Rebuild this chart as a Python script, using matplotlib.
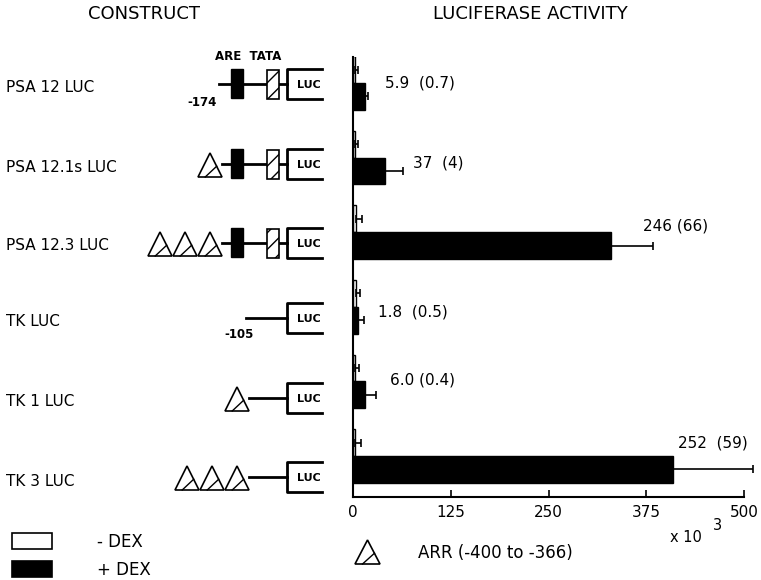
import numpy as np
import matplotlib
matplotlib.use("Agg")
from matplotlib import pyplot as plt
from matplotlib.patches import Rectangle, Polygon

plt.rcParams['font.family'] = ['DejaVu Sans']

# constructs, top to bottom
constructs = ["PSA 12 LUC", "PSA 12.1s LUC", "PSA 12.3 LUC", "TK LUC", "TK 1 LUC", "TK 3 LUC"]
n_arr = [0, 1, 3, 0, 1, 3]          # number of ARR copies upstream
psa_promoter = [True, True, True, False, False, False]

# luciferase activity (x 10^3), mean and s.e.
minus_dex = [3, 2, 4, 4, 3, 3]
minus_err = [3, 4, 7, 5, 5, 7]
plus_dex = [15, 41, 330, 7, 15, 409]
plus_err = [4, 23, 54, 7, 14, 102]

# fold induction (s.e.)
fold = ["5.9  (0.7)", "37  (4)", "246 (66)", "1.8  (0.5)", "6.0 (0.4)", "252  (59)"]
fold_x = [41, 77, 371, 32, 47, 416]
fold_dy = [0.0, 0.07, -0.08, 0.07, -0.02, -0.17]

xticks = [0, 125, 250, 375, 500]

W, H = 761, 580
fig = plt.figure(figsize=(W / 100, H / 100), dpi=100)

# ---- bar chart ----
top_px, bot_px, row0_px, row_px = 57, 497, 83, 74.6
ax = fig.add_axes([353 / W, 1 - bot_px / H, 391 / W, (bot_px - top_px) / H])
ypos = np.arange(len(constructs))
h = 0.36
ekw = dict(ecolor='black', elinewidth=1.2, capsize=3, capthick=1.2, clip_on=False)
ax.barh(ypos - h / 2, minus_dex, height=h, color='white', edgecolor='black', lw=1.0,
        xerr=[np.zeros(6), minus_err], error_kw=ekw)
ax.barh(ypos + h / 2, plus_dex, height=h, color='black', edgecolor='black', lw=1.0,
        xerr=[np.zeros(6), plus_err], error_kw=ekw)
for i, txt in enumerate(fold):
    ax.text(fold_x[i], i + fold_dy[i], txt, fontsize=11, ha='left', va='center')

ax.set_xlim(0, 500)
ax.set_ylim((bot_px - row0_px) / row_px, (top_px - row0_px) / row_px)
ax.set_xticks(xticks)
ax.set_xticklabels([str(t) for t in xticks], fontsize=11)
ax.tick_params(axis='x', direction='in', length=5, width=1.2, pad=6)
ax.set_yticks([])
for s in ['top', 'right']:
    ax.spines[s].set_visible(False)
for s in ['left', 'bottom']:
    ax.spines[s].set_linewidth(1.5)

# ---- construct diagrams, drawn in pixel coordinates ----
ov = fig.add_axes([0, 0, 1, 1], zorder=-1)
ov.set_xlim(0, W)
ov.set_ylim(H, 0)
ov.axis('off')

def triangle(x0, cy, w=24):
    base, apex = cy + 13, cy - 11
    ov.add_patch(Polygon([[x0, base], [x0 + w, base], [x0 + w / 2, apex]], closed=True,
                         fill=False, edgecolor='black', lw=1.2))
    ov.plot([x0 + 0.3 * w, x0 + 0.78 * w], [base, base - 0.45 * (base - apex)], color='black', lw=1.0)

def luc_box(cy):
    ov.plot([322, 287, 287, 322], [cy - 15, cy - 15, cy + 15, cy + 15], color='black', lw=2.0)
    ov.text(297, cy + 1, "LUC", fontsize=8, fontweight='bold', ha='left', va='center')

cy_list = [84, 164, 243, 318, 398, 477]
label_y = [87, 167, 245, 322, 402, 482]

for i, name in enumerate(constructs):
    cy = cy_list[i]
    ov.text(6, label_y[i], name, fontsize=11, ha='left', va='center')
    luc_box(cy)
    if psa_promoter[i]:
        right = 222
        start = 219 if n_arr[i] == 0 else right
        ov.plot([start, 287], [cy, cy], color='black', lw=2.0, zorder=1)
        ov.add_patch(Rectangle((231, cy - 15), 12, 29, facecolor='black', edgecolor='black', zorder=2))
        ov.add_patch(Rectangle((267, cy - 14), 12, 29, facecolor='white', edgecolor='black',
                               hatch='//', lw=1.2, zorder=2))
    else:
        right = 249
        start = 246 if n_arr[i] == 0 else right
        ov.plot([start, 287], [cy, cy], color='black', lw=2.0, zorder=1)
    for k in range(n_arr[i]):
        triangle(right - 24 - 25 * (n_arr[i] - 1 - k), cy)

ov.text(215, 57, "ARE  TATA", fontsize=8.5, fontweight='bold', ha='left', va='center')
ov.text(187, 102, "-174", fontsize=8.5, fontweight='bold', ha='left', va='center')
ov.text(224, 334, "-105", fontsize=8.5, fontweight='bold', ha='left', va='center')

# headers
ov.text(144, 14, "CONSTRUCT", fontsize=13, ha='center', va='center')
ov.text(530, 14, "LUCIFERASE ACTIVITY", fontsize=13, ha='center', va='center')

# axis multiplier
ov.text(670, 537, "x 10", fontsize=10.5, ha='left', va='center')
ov.text(713, 526, "3", fontsize=10.5, ha='left', va='center')

# ARR key
triangle(355, 551, w=25)
ov.text(418, 553, "ARR (-400 to -366)", fontsize=12, ha='left', va='center')

# dex legend
ov.add_patch(Rectangle((12, 533), 40, 16, facecolor='white', edgecolor='black', lw=1.2))
ov.add_patch(Rectangle((12, 561), 40, 16, facecolor='black', edgecolor='black', lw=1.2))
ov.text(97, 542, "- DEX", fontsize=12, ha='left', va='center')
ov.text(97, 570, "+ DEX", fontsize=12, ha='left', va='center')

fig.savefig('out.png', dpi=100)
